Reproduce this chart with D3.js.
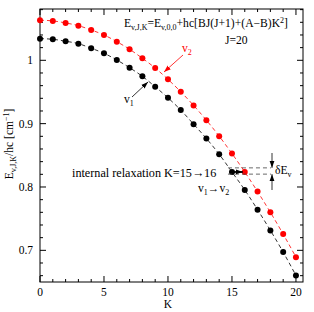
<!DOCTYPE html>
<html><head><meta charset="utf-8">
<script src="https://cdn.jsdelivr.net/npm/d3@7"></script>
<style>body{margin:0;background:#fff}svg{display:block}text{font-family:"Liberation Serif","DejaVu Serif",serif}</style>
</head><body>
<script>
const K = d3.range(0, 21);
const v1 = [1.0342,1.0332,1.0301,1.0263,1.0190,1.0111,1.0005,0.9883,0.9747,0.9582,0.9408,0.9214,0.8992,0.8766,0.8517,0.8237,0.7953,0.7642,0.7315,0.6972,0.6603];
const v2 = [1.0633,1.0622,1.0590,1.0547,1.0479,1.0400,1.0294,1.0174,1.0032,0.9878,0.9699,0.9503,0.9288,0.9055,0.8802,0.8528,0.8237,0.7927,0.7600,0.7256,0.6892];
const xTicks = [0,5,10,15,20];
const yTicks = [0.7,0.8,0.9,1];
const yTickLabels = ["0.7","0.8","0.9","1"];
const dELevels = [0.8302, 0.8203];

const W=314,H=312;
const svg=d3.select("body").append("svg").attr("width",W).attr("height",H);
const x=d3.scaleLinear([0,20.55],[40,303]);
const y=d3.scaleLinear([0.65,1.081],[282,9]);

const defs=svg.append("defs");
function marker(id,color){
  defs.append("marker").attr("id",id).attr("viewBox","0 0 10 10").attr("refX",10).attr("refY",5)
   .attr("markerWidth",7).attr("markerHeight",7).attr("markerUnits","userSpaceOnUse").attr("orient","auto")
   .append("path").attr("d","M0,1.5L10,5L0,8.5Z").attr("fill",color);
}
marker("ab","#000");marker("ar","#f00");

// axes
const g=svg.append("g");
g.append("rect").attr("x",40).attr("y",9).attr("width",263).attr("height",273).attr("fill","none").attr("stroke","#000").attr("stroke-width",1);
const minorX=d3.range(0,21,1), minorY=d3.range(0.66,1.081,0.02);
minorX.forEach(k=>{const maj=k%5===0,L=maj?6:3;
  g.append("line").attr("x1",x(k)).attr("x2",x(k)).attr("y1",282).attr("y2",282-L).attr("stroke","#000");
  g.append("line").attr("x1",x(k)).attr("x2",x(k)).attr("y1",9).attr("y2",9+L).attr("stroke","#000");});
minorY.forEach(v=>{const maj=Math.abs(v*10-Math.round(v*10))<1e-6,L=maj?6:3;
  g.append("line").attr("y1",y(v)).attr("y2",y(v)).attr("x1",40).attr("x2",40+L).attr("stroke","#000");
  g.append("line").attr("y1",y(v)).attr("y2",y(v)).attr("x1",303).attr("x2",303-L).attr("stroke","#000");});
xTicks.forEach(t=>g.append("text").attr("x",x(t)).attr("y",296).attr("text-anchor","middle").attr("font-size",11.5).text(t));
yTicks.forEach((t,i)=>g.append("text").attr("x",33).attr("y",y(t)+4).attr("text-anchor","end").attr("font-size",11.5).text(yTickLabels[i]));
g.append("text").attr("x",x(10)).attr("y",308).attr("text-anchor","middle").attr("font-size",11.5).text("K");

// y label
const yl=g.append("text").attr("transform","translate(13,144) rotate(-90)").attr("text-anchor","middle").attr("font-size",11.5);
yl.append("tspan").text("E");
yl.append("tspan").attr("font-size",8).attr("dy",3).text("v,J,K");
yl.append("tspan").attr("dy",-3).text("/hc [cm");
yl.append("tspan").attr("font-size",8).attr("dy",-4).text("−1");
yl.append("tspan").attr("dy",4).text("]");

// curves
const line=d3.line().x((d,i)=>x(K[i])).y(d=>y(d)).curve(d3.curveMonotoneX);
svg.append("path").attr("d",line(v1)).attr("fill","none").attr("stroke","#000").attr("stroke-width",0.8).attr("stroke-dasharray","4,3");
svg.append("path").attr("d",line(v2)).attr("fill","none").attr("stroke","#f00").attr("stroke-width",0.8).attr("stroke-dasharray","4,3");
svg.selectAll(".p1").data(v1).enter().append("circle").attr("cx",(d,i)=>x(K[i])).attr("cy",d=>y(d)).attr("r",3).attr("fill","#000");
svg.selectAll(".p2").data(v2).enter().append("circle").attr("cx",(d,i)=>x(K[i])).attr("cy",d=>y(d)).attr("r",3).attr("fill","#f00");

// formula
const f=svg.append("text").attr("x",124).attr("y",27).attr("font-size",11.6);
f.append("tspan").text("E");
f.append("tspan").attr("font-size",8).attr("dy",2.5).text("v,J,K");
f.append("tspan").attr("dy",-2.5).text("=E");
f.append("tspan").attr("font-size",8).attr("dy",2.5).text("v,0,0");
f.append("tspan").attr("dy",-2.5).text("+hc[BJ(J+1)+(A−B)K");
f.append("tspan").attr("font-size",8).attr("dy",-4).text("2");
f.append("tspan").attr("dy",4).text("]");
svg.append("text").attr("x",225).attr("y",44).attr("font-size",11.6).text("J=20");

// v1, v2 labels
const t1=svg.append("text").attr("x",124).attr("y",103).attr("font-size",11.6);
t1.append("tspan").text("v");t1.append("tspan").attr("font-size",8).attr("dy",2.5).text("1");
svg.append("line").attr("x1",132).attr("y1",97).attr("x2",148).attr("y2",82).attr("stroke","#000").attr("stroke-width",0.8).attr("marker-end","url(#ab)");
const t2=svg.append("text").attr("x",182).attr("y",52).attr("font-size",11.6).attr("fill","#f00");
t2.append("tspan").text("v");t2.append("tspan").attr("font-size",8).attr("dy",2.5).text("2");
svg.append("line").attr("x1",183).attr("y1",55).attr("x2",164).attr("y2",72).attr("stroke","#f00").attr("stroke-width",0.8).attr("marker-end","url(#ar)");

// internal relaxation
svg.append("text").attr("x",72).attr("y",176.5).attr("font-size",12.2).text("internal relaxation K=15→16");
const t3=svg.append("text").attr("x",198).attr("y",192).attr("font-size",11.6);
t3.append("tspan").text("v");t3.append("tspan").attr("font-size",8).attr("dy",2.5).text("1");
t3.append("tspan").attr("dy",-2.5).text("→v");t3.append("tspan").attr("font-size",8).attr("dy",2.5).text("2");
dELevels.forEach(v=>svg.append("line").attr("x1",x(15)-4).attr("x2",271).attr("y1",y(v)).attr("y2",y(v)).attr("stroke","#444").attr("stroke-width",0.8).attr("stroke-dasharray","4,3"));
svg.append("line").attr("x1",x(15)).attr("x2",x(16)-2).attr("y1",y(v1[15])).attr("y2",y(v1[15])).attr("stroke","#000").attr("stroke-width",1.8).attr("marker-end","url(#ab)");
svg.append("line").attr("x1",272).attr("x2",272).attr("y1",153).attr("y2",y(dELevels[0])).attr("stroke","#000").attr("stroke-width",0.8).attr("marker-end","url(#ab)");
svg.append("line").attr("x1",272).attr("x2",272).attr("y1",190).attr("y2",y(dELevels[1])).attr("stroke","#000").attr("stroke-width",0.8).attr("marker-end","url(#ab)");
const t4=svg.append("text").attr("x",275).attr("y",174).attr("font-size",11.6);
t4.append("tspan").text("δE");t4.append("tspan").attr("font-size",8).attr("dy",2.5).text("v");
</script>
</body></html>
